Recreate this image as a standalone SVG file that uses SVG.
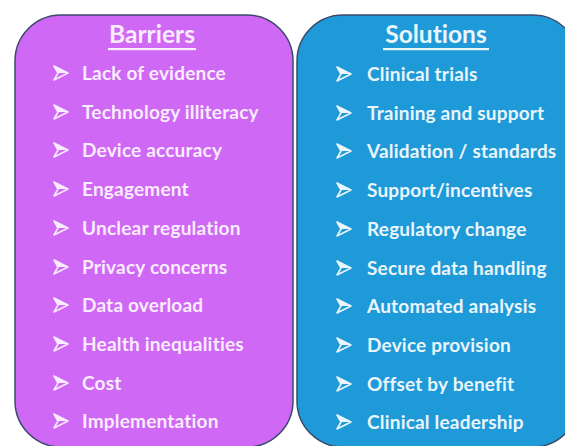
<svg xmlns="http://www.w3.org/2000/svg" width="565" height="446" viewBox="0 0 565 446">
<style>
.box{stroke:#3b4a6b;stroke-width:1.5}
.title{font-family:Lato,"Liberation Sans",sans-serif;font-weight:bold;font-size:24.5px;text-anchor:middle;font-variant-ligatures:none}
.item{font-family:Lato,"Liberation Sans",sans-serif;font-weight:bold;font-size:19px;letter-spacing:0.2px;font-variant-ligatures:none}
.lt{fill:#f9ecfd}
.rt{fill:#eaf5fc}
</style>
<defs>
<g id="bul">
<path d="M0,-7 L14,0 L0,7 L4,0 Z" fill="none" stroke="currentColor" stroke-width="1.6" stroke-linejoin="round"/>
<path d="M0,-7 L14,0 L4,0 Z" fill="currentColor"/>
</g>
</defs>
<rect width="565" height="446" fill="#ffffff"/>
<g id="barriers">
<rect class="box" x="15" y="15" width="278" height="432" rx="46" ry="46" fill="#cf68f4"/>
<text class="title lt" x="152" y="43">Barriers</text>
<rect x="108" y="48" width="88" height="2.2" fill="#f9ecfd"/>
<g color="#f9ecfd">
<use href="#bul" x="54" y="73"/>
<use href="#bul" x="54" y="112"/>
<use href="#bul" x="54" y="150"/>
<use href="#bul" x="54" y="189"/>
<use href="#bul" x="54" y="228"/>
<use href="#bul" x="54" y="267"/>
<use href="#bul" x="54" y="305"/>
<use href="#bul" x="54" y="344"/>
<use href="#bul" x="54" y="383"/>
<use href="#bul" x="54" y="421"/>
</g>
<text class="item lt" x="82" y="80">Lack of evidence</text>
<text class="item lt" x="82" y="119">Technology illiteracy</text>
<text class="item lt" x="82" y="157">Device accuracy</text>
<text class="item lt" x="82" y="196">Engagement</text>
<text class="item lt" x="82" y="235">Unclear regulation</text>
<text class="item lt" x="82" y="274">Privacy concerns</text>
<text class="item lt" x="82" y="312">Data overload</text>
<text class="item lt" x="82" y="351">Health inequalities</text>
<text class="item lt" x="82" y="390">Cost</text>
<text class="item lt" x="82" y="428">Implementation</text>
</g>
<g id="solutions">
<rect class="box" x="297" y="15" width="282" height="432" rx="46" ry="46" fill="#1f9ad8"/>
<text class="title rt" x="436" y="43">Solutions</text>
<rect x="383" y="48" width="106" height="2.2" fill="#eaf5fc"/>
<g color="#eaf5fc">
<use href="#bul" x="337" y="74"/>
<use href="#bul" x="337" y="113"/>
<use href="#bul" x="337" y="151"/>
<use href="#bul" x="337" y="190"/>
<use href="#bul" x="337" y="229"/>
<use href="#bul" x="337" y="268"/>
<use href="#bul" x="337" y="306"/>
<use href="#bul" x="337" y="345"/>
<use href="#bul" x="337" y="384"/>
<use href="#bul" x="337" y="422"/>
</g>
<text class="item rt" x="367" y="81">Clinical trials</text>
<text class="item rt" x="367" y="120">Training and support</text>
<text class="item rt" x="367" y="158">Validation / standards</text>
<text class="item rt" x="367" y="197">Support/incentives</text>
<text class="item rt" x="367" y="236">Regulatory change</text>
<text class="item rt" x="367" y="275">Secure data handling</text>
<text class="item rt" x="367" y="313">Automated analysis</text>
<text class="item rt" x="367" y="352">Device provision</text>
<text class="item rt" x="367" y="391">Offset by benefit</text>
<text class="item rt" x="367" y="429">Clinical leadership</text>
</g>
</svg>
